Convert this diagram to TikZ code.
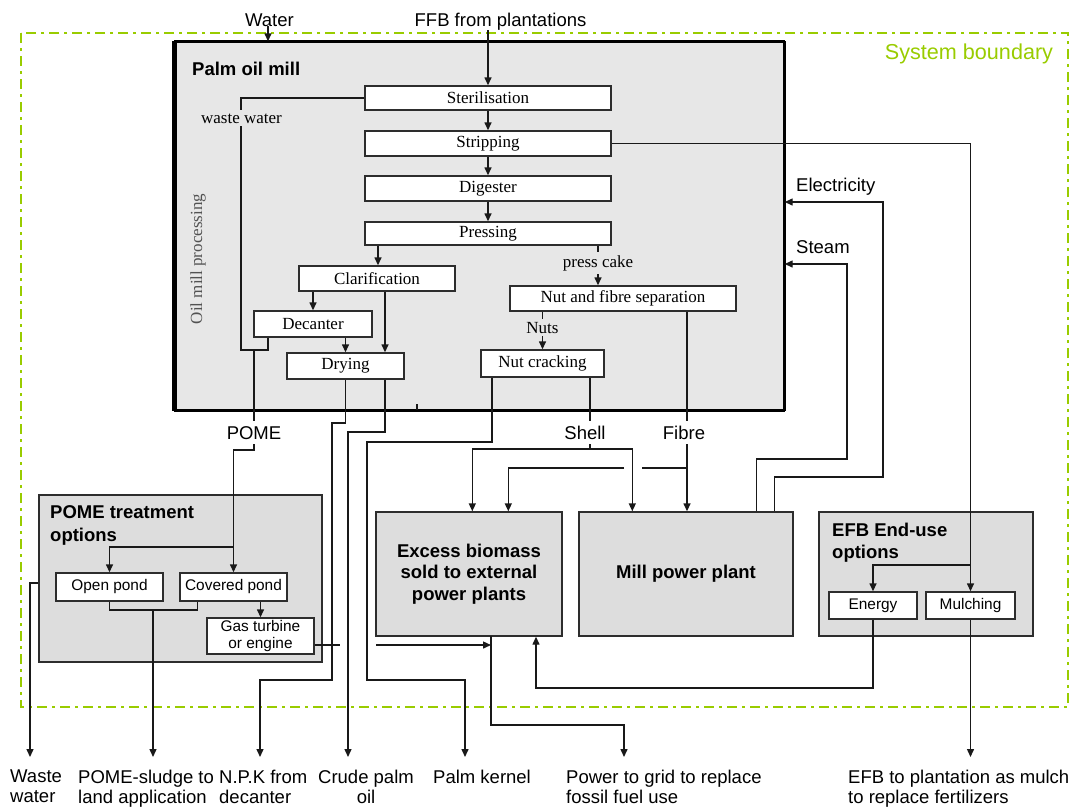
\documentclass[tikz,border=0pt]{standalone}
\usepackage{fontspec}
\setmainfont{Liberation Sans}
\newfontfamily\procfont{Liberation Serif}
\usetikzlibrary{arrows.meta,calc}

\definecolor{bndgreen}{RGB}{153,204,0}
\definecolor{millfill}{RGB}{231,231,231}
\definecolor{optfill}{RGB}{221,221,221}
\definecolor{edgecol}{RGB}{45,45,45}
\definecolor{linecol}{RGB}{25,25,25}

\tikzset{
  flow/.style={draw=linecol, line width=1.4pt},
  arr/.style={flow, -{Triangle[width=7pt,length=8pt]}},
  procbox/.style={draw=edgecol, line width=1.4pt, fill=white, inner sep=0pt,
    font={\procfont\fontsize{17}{19}\selectfont}},
  optbox/.style={draw=edgecol, line width=1.4pt, fill=optfill, inner sep=0pt},
  smallbox/.style={draw=edgecol, line width=1.4pt, fill=white, inner sep=0pt,
    align=center, font={\fontsize{15.4}{17.7}\selectfont}},
  lbl/.style={inner sep=0pt, font={\fontsize{18.5}{19.5}\selectfont}},
  cutlbl/.style={lbl, fill=white, inner xsep=2pt, inner ysep=5pt,
    text height=13.2pt, text depth=0pt},
  proclbl/.style={fill=millfill, inner xsep=1pt, inner ysep=3pt,
    font={\procfont\fontsize{17}{19}\selectfont}},
  titlelbl/.style={inner sep=0pt, align=left,
    font={\bfseries\fontsize{18.5}{23}\selectfont}},
  bnd/.style={draw=bndgreen, line width=2.6pt,
    dash pattern=on 10pt off 5pt on 3pt off 5pt}
}

\begin{document}
\begin{tikzpicture}[x=1pt,y=-1pt]
\useasboundingbox (0,0) rectangle (1073,807);

% system boundary
\draw[bnd] (21,33) rectangle (1068,707);
\node[lbl, text=bndgreen, font={\fontsize{21.6}{24}\selectfont}, anchor=base]
  (sysb) at (969,59) {System boundary};

% palm oil mill
\node[fill=millfill, draw=black, line width=1.4pt, minimum width=609pt,
  minimum height=368pt, inner sep=0pt] (mill) at (479.5,226) {};
\draw[line width=1.6pt] (mill.north east) -- (mill.south east);
\draw[line width=2.2pt] (mill.south west) -- (mill.south east);
\draw[line width=3pt] (mill.north west) -- (mill.north east);
\draw[line width=4.5pt] (mill.south west) -- (mill.north west);
\node[titlelbl, anchor=base west] (milltitle) at (192,75) {Palm oil mill};
\node[rotate=90, text=black!68, inner sep=0pt,
  font={\procfont\fontsize{17}{19}\selectfont}] (omp) at (198,259) {Oil mill processing};

% process steps
\node[procbox, minimum width=246pt, minimum height=24pt] (ster)  at (488,98)    {Sterilisation};
\node[procbox, minimum width=246pt, minimum height=25pt] (strip) at (488,143.5) {Stripping};
\node[procbox, minimum width=246pt, minimum height=25pt] (dig)   at (488,188.5) {Digester};
\node[procbox, minimum width=246pt, minimum height=23pt] (press) at (488,233.5) {Pressing};
\node[procbox, minimum width=156pt, minimum height=25pt] (clar)  at (377,278.5) {Clarification};
\node[procbox, minimum width=118pt, minimum height=26pt] (dec)   at (313,324)   {Decanter};
\node[procbox, minimum width=117pt, minimum height=26pt] (dry)   at (345.5,366) {Drying};
\node[procbox, minimum width=226pt, minimum height=25pt] (nfs)   at (623,298.5) {Nut and fibre separation};
\node[procbox, minimum width=123pt, minimum height=27pt] (crack) at (542.5,363.5) {Nut cracking};

% downstream boxes
\node[optbox, minimum width=283pt, minimum height=167pt] (pomeopt) at (180.5,578.5) {};
\node[titlelbl, anchor=north west] (pometitle) at (50,505) {POME treatment\\options};
\node[smallbox, minimum width=107pt, minimum height=28pt] (open) at (109.5,587) {Open pond};
\node[smallbox, minimum width=107pt, minimum height=28pt] (cov)  at (233.5,587) {Covered pond};
\node[smallbox, minimum width=107pt, minimum height=36pt] (gas)  at (260.5,636) {Gas turbine\\or engine};

\node[optbox, minimum width=186pt, minimum height=124pt, align=center,
  font={\bfseries\fontsize{18.5}{21.7}\selectfont}] (excess) at (469,574)
  {Excess biomass\\sold to external\\power plants};
\node[optbox, minimum width=214pt, minimum height=124pt,
  font={\bfseries\fontsize{18.5}{21.7}\selectfont}] (mpp) at (686,574) {Mill power plant};

\node[optbox, minimum width=214pt, minimum height=124pt] (efbopt) at (926,574) {};
\node[titlelbl, anchor=north west, font={\bfseries\fontsize{18.5}{22}\selectfont}]
  (efbtitle) at (832,523) {EFB End-use\\options};
\node[smallbox, minimum width=88pt, minimum height=27pt] (energy) at (873,605.5) {Energy};
\node[smallbox, minimum width=89pt, minimum height=27pt] (mulch)  at (970.5,605.5) {Mulching};

% inputs
\node[lbl, anchor=base] (water) at (269.5,26) {Water};
\node[lbl, anchor=base] (ffb) at (500.5,26) {FFB from plantations};
\draw[arr] (water.south -| 268,0) -- (mill.north -| 268,0);
\draw[arr] (ffb.south -| ster.north) -- (ster.north);

% bend points and tap positions
\coordinate (wwBend)   at (241,350);
\coordinate (decTap)   at (268,0);
\coordinate (pomeTop)  at (254,350);
\coordinate (pomeJog)  at (254,450);
\coordinate (pomeSplit) at (0,547);
\coordinate (pcX)      at (598,0);
\coordinate (clarX)    at (378,0);
\coordinate (crudeTap) at (385,0);
\coordinate (kernTap)  at (492,0);
\coordinate (shellJ)   at (590,449);
\coordinate (fibreJ)   at (687,468);
\coordinate (steamY)   at (0,264);
\coordinate (elecY)    at (0,202);
\coordinate (efbSplit) at (0,565);
\coordinate (energyBend) at (536,688);
\coordinate (sludgeBar) at (0,610);
\coordinate (wwOutY)   at (0,583);
\coordinate (gasY)     at (0,645);
\coordinate (gridTap)  at (491,636);

% free ends of the outputs
\coordinate (wwEnd)     at (30,757);
\coordinate (sludgeEnd) at (153,757);
\coordinate (npkEnd)    at (260,757);
\coordinate (crudeEnd)  at (348,757);
\coordinate (kernelEnd) at (465,757);
\coordinate (gridEnd)   at (624,757);
\coordinate (efbEnd)    at (970.5,757);

% main processing line
\draw[arr] (ster) -- (strip);
\draw[arr] (strip) -- (dig);
\draw[arr] (dig) -- (press);
\draw[arr] (press.south -| clarX) -- (clar.north -| clarX);
\draw[arr] (press.south -| pcX) -- (nfs.north -| pcX);
\draw[arr] (clar.south -| dec.north) -- (dec.north);
\draw[arr] (clar.south -| crudeTap) -- (dry.north -| crudeTap);
\draw[arr] (dec.south -| dry.north) -- (dry.north);
\draw[arr] (nfs.south -| crack.north) -- (crack.north);

% waste water and POME
\draw[flow] (ster.west) -| (wwBend) -| (dec.south -| decTap);
\draw[arr] (pomeTop) -- (pomeJog) -| (cov.north);
\draw[arr] (cov.north |- pomeSplit) -| (open.north);
\draw[arr] (cov.south -| gas.north) -- (gas.north);
\draw[flow] (open.south) -- (open.south |- sludgeBar) -| ([xshift=18pt]cov.south west);
\draw[arr] (sludgeEnd |- sludgeBar) -- (sludgeEnd);
\draw[arr] (pomeopt.west |- wwOutY) -| (wwEnd);

% products from drying and nut cracking
\draw[arr] (dry.south) -- (345.5,423) -- (332,423) -- (332,680) -- (260,680) -- (npkEnd);
\draw[arr] (dry.south -| crudeTap) -- (385,432) -- (348,432) -- (crudeEnd);
\draw[arr] (crack.south -| kernTap) -- (492,442) -- (367,442) -- (367,680) -- (465,680) -- (kernelEnd);
\draw[flow] (417,404) -- (417,410);

% shell and fibre
\draw[flow] (crack.south -| shellJ) -- (shellJ);
\draw[arr] (shellJ) -| ([xshift=97pt]excess.north west);
\draw[arr] (shellJ) -| ([xshift=54pt]mpp.north west);
\draw[arr] (nfs.south -| fibreJ) -- (mpp.north -| fibreJ);
\draw[flow] (fibreJ) -- (642,468);
\draw[arr] (624,468) -| ([xshift=133pt]excess.north west);

% steam and electricity back to the mill
\draw[arr] ([xshift=178pt]mpp.north west) |- (847,459) |- (mill.east |- steamY);
\draw[arr] ([xshift=196pt]mpp.north west) |- (883,477) |- (mill.east |- elecY);
\node[lbl, anchor=base west] (elecL) at (796,191) {Electricity};
\node[lbl, anchor=base west] (steamL) at (796,253) {Steam};

% EFB
\draw[arr] (strip.east) -| (mulch.north);
\draw[arr] (mulch.north |- efbSplit) -| (energy.north);
\draw[arr] (mulch.south) -- (efbEnd);
\draw[arr] (energy.south) |- (energyBend) -- (excess.south -| energyBend);

% power to grid
\draw[arr] (gridTap) |- (gridEnd |- 0,725) -- (gridEnd);
\draw[flow] (gas.east |- gasY) -- (340,645);
\draw[arr] (376,645) -- (gridTap |- gasY);

% labels sitting on lines
\node[proclbl, anchor=base] (wwL) at (241.5,123) {waste water};
\node[proclbl, anchor=base] (pcL) at (598,267) {press cake};
\node[proclbl, anchor=base] (nutsL) at (542.5,333) {Nuts};
\node[cutlbl, anchor=base] (pomeL) at (254,439) {POME};
\node[cutlbl, anchor=base] (shellL) at (585,439) {Shell};
\node[cutlbl, anchor=base] (fibreL) at (684,439) {Fibre};

% outputs
\node[lbl, anchor=north west, align=left] (lWW) at (10,770) {Waste\\water};
\node[lbl, anchor=north west, align=left] (lSludge) at (78,770) {POME-sludge to\\land application};
\node[lbl, anchor=north west, align=left] (lNPK) at (219,770) {N.P.K from\\decanter};
\node[lbl, anchor=north, align=center] (lCPO) at (366,770) {Crude palm\\oil};
\node[lbl, anchor=north west, align=left] (lPK) at (433,770) {Palm kernel};
\node[lbl, anchor=north west, align=left] (lGrid) at (566,770) {Power to grid to replace\\fossil fuel use};
\node[lbl, anchor=north west, align=left] (lEFB) at (848,770) {EFB to plantation as mulch\\to replace fertilizers};
\end{tikzpicture}
\end{document}
